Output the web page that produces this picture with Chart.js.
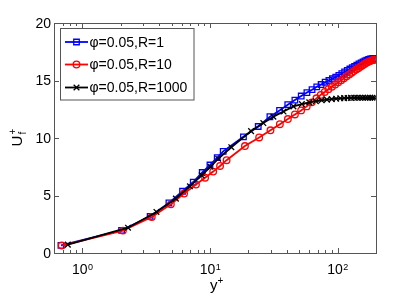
<!DOCTYPE html>
<html>
<head>
<meta charset="utf-8">
<script src="https://cdn.jsdelivr.net/npm/chart.js@4/dist/chart.umd.min.js"></script>
<style>
  html, body { margin: 0; padding: 0; background: #fff; }
  #wrap { width: 415px; height: 297px; }
</style>
</head>
<body>
<div id="wrap"><canvas id="chart" width="415" height="297"></canvas></div>
<script>
// phi=0.05, R=1
const yPlusR1 = [0.68, 2.03, 3.4, 4.77, 6.1, 7.4, 8.7, 10.0, 11.4, 12.7,
  18.3, 23.9, 29.5, 35.1, 40.7, 46.3, 51.9, 57.5, 63.1, 68.7, 74.3, 79.9, 85.5, 91.1, 96.7,
  102.3, 107.9, 113.5, 119.1, 124.7, 130.3, 135.9, 141.5, 147.1, 152.7, 158.3, 163.9, 169.5,
  175.1, 180.7, 186.3, 191.9];
const uR1 = [0.67, 1.97, 3.19, 4.35, 5.37, 6.17, 7.0, 7.65, 8.3, 8.84,
  10.1, 11.0, 11.85, 12.4, 12.9, 13.3, 13.65, 13.95, 14.2, 14.45, 14.65, 14.85, 15.0, 15.15, 15.3,
  15.45, 15.6, 15.75, 15.88, 16.0, 16.12, 16.23, 16.34, 16.44, 16.53, 16.62, 16.7, 16.77,
  16.83, 16.87, 16.9, 16.92];

// phi=0.05, R=10
const yPlusR10 = [0.69, 2.08, 3.5, 4.94, 6.27, 7.77, 9.16, 10.6, 12.0, 13.5,
  18.8, 24.3, 29.8, 35.3, 40.8, 46.3, 51.8, 57.3, 62.8, 68.3, 73.8, 79.3, 84.8, 90.3, 95.8,
  101.3, 106.8, 112.3, 117.8, 123.3, 128.8, 134.3, 139.8, 145.3, 150.8, 156.3, 161.8, 167.3,
  172.8, 178.3, 183.8, 189.3, 194.8];
const uR10 = [0.65, 1.95, 3.13, 4.23, 5.17, 5.95, 6.55, 7.08, 7.57, 8.07,
  9.3, 10.05, 10.67, 11.2, 11.65, 12.05, 12.4, 12.75, 13.1, 13.45, 13.75, 14.0, 14.25, 14.45, 14.65,
  14.85, 15.03, 15.2, 15.37, 15.53, 15.68, 15.82, 15.95, 16.07, 16.2, 16.31, 16.42, 16.52,
  16.6, 16.67, 16.73, 16.78, 16.8];

// phi=0.05, R=1000
const yPlusR1000 = [0.77, 2.28, 3.81, 5.41, 6.97, 8.61, 10.1, 11.6, 14.7, 21.0,
  26.2, 31.4, 37.7, 45.1, 52.5, 60, 67.5, 75, 82.5, 90, 97.5, 105, 112.5, 120, 127.5,
  135, 142.5, 150, 157.5, 165, 172.5, 180, 187.5, 195];
const uR1000 = [0.73, 2.2, 3.57, 4.73, 5.8, 6.76, 7.5, 8.2, 9.2, 10.6,
  11.3, 11.85, 12.3, 12.75, 12.95, 13.1, 13.2, 13.28, 13.34, 13.38, 13.42, 13.45, 13.47, 13.48, 13.49,
  13.5, 13.5, 13.5, 13.5, 13.5, 13.5, 13.5, 13.5, 13.5];

const seriesLabels = ['φ=0.05,R=1', 'φ=0.05,R=10', 'φ=0.05,R=1000'];
const xMajorExponents = [0, 1, 2];
const yTickValues = [0, 5, 10, 15, 20];

const FONT = '"Liberation Sans", Arial, Helvetica, sans-serif';
const AXIS_COLOR = '#555';

const toPoints = (xs, ys) => xs.map((x, i) => ({ x: x, y: ys[i] }));

const styles = [
  { color: '#0000ff', marker: 'rect', radius: 3.9 },
  { color: '#ff0000', marker: 'circle', radius: 3.3 },
  { color: '#000000', marker: 'crossRot', radius: 4 }
];

function drawMarker(ctx, type, x, y, r) {
  ctx.beginPath();
  if (type === 'rect') {
    const s = r * Math.SQRT1_2;
    ctx.rect(x - s, y - s, 2 * s, 2 * s);
  } else if (type === 'circle') {
    ctx.arc(x, y, r, 0, Math.PI * 2);
  } else {
    const s = r * Math.SQRT1_2;
    ctx.moveTo(x - s, y - s); ctx.lineTo(x + s, y + s);
    ctx.moveTo(x - s, y + s); ctx.lineTo(x + s, y - s);
  }
  ctx.stroke();
}

// box, inward ticks, tick labels and axis titles drawn like a MATLAB figure
const matlabAxes = {
  id: 'matlabAxes',
  afterDraw(chart) {
    const ctx = chart.ctx;
    const a = chart.chartArea;
    const xs = chart.scales.x;
    const ys = chart.scales.y;
    ctx.save();
    ctx.strokeStyle = AXIS_COLOR;
    ctx.lineWidth = 1;
    ctx.strokeRect(Math.round(a.left) + 0.5, Math.round(a.top) + 0.5,
      Math.round(a.right - a.left), Math.round(a.bottom - a.top));

    // y ticks
    ctx.beginPath();
    yTickValues.forEach(v => {
      const py = Math.round(ys.getPixelForValue(v)) + 0.5;
      ctx.moveTo(a.left, py); ctx.lineTo(a.left + 5, py);
      ctx.moveTo(a.right, py); ctx.lineTo(a.right - 5, py);
    });
    // x ticks, major and minor
    const minV = xs.min, maxV = xs.max;
    for (let e = -1; e <= 2; e++) {
      for (let m = 1; m <= 9; m++) {
        const v = m * Math.pow(10, e);
        if (v < minV || v > maxV) continue;
        const len = m === 1 ? 5 : 3;
        const px = Math.round(xs.getPixelForValue(v)) + 0.5;
        ctx.moveTo(px, a.bottom); ctx.lineTo(px, a.bottom - len);
        ctx.moveTo(px, a.top); ctx.lineTo(px, a.top + len);
      }
    }
    ctx.stroke();

    ctx.fillStyle = '#000';
    ctx.font = '14px ' + FONT;
    ctx.textAlign = 'right';
    ctx.textBaseline = 'middle';
    yTickValues.forEach(v => {
      ctx.fillText(String(v), a.left - 3, ys.getPixelForValue(v) + 1);
    });

    // x tick labels 10^n
    ctx.textBaseline = 'alphabetic';
    ctx.textAlign = 'left';
    xMajorExponents.forEach(ex => {
      const px = xs.getPixelForValue(Math.pow(10, ex));
      ctx.font = '14px ' + FONT;
      const wBase = ctx.measureText('10').width;
      ctx.font = '9px ' + FONT;
      const wExp = ctx.measureText(String(ex)).width;
      const x0 = px - (wBase + wExp) / 2;
      ctx.font = '14px ' + FONT;
      ctx.fillText('10', x0, a.bottom + 21);
      ctx.font = '9px ' + FONT;
      ctx.fillText(String(ex), x0 + wBase + 0.5, a.bottom + 17);
    });

    // x title y+
    const cx = (a.left + a.right) / 2;
    ctx.font = '15px ' + FONT;
    const wy = ctx.measureText('y').width;
    ctx.fillText('y', cx - 5, a.bottom + 37);
    ctx.font = '10px ' + FONT;
    ctx.fillText('+', cx - 5 + wy, a.bottom + 31);

    // y title U_f^+
    const cy = (a.top + a.bottom) / 2;
    ctx.translate(22, cy);
    ctx.rotate(-Math.PI / 2);
    ctx.font = '15px ' + FONT;
    const wU = ctx.measureText('U').width;
    ctx.fillText('U', -wU / 2 - 3, 0);
    ctx.font = '10px ' + FONT;
    ctx.fillText('+', wU / 2 - 2, -6);
    ctx.fillText('f', wU / 2 - 2, 4);
    ctx.restore();

    // legend box
    ctx.save();
    const lx = 60.5, ly = 28.5, lw = 133.5, lh = 71.5;
    ctx.fillStyle = '#fff';
    ctx.fillRect(lx, ly, lw, lh);
    ctx.strokeStyle = AXIS_COLOR;
    ctx.lineWidth = 1;
    ctx.strokeRect(lx, ly, lw, lh);
    const rows = [42, 64.5, 87.5];
    seriesLabels.forEach((label, i) => {
      const st = styles[i];
      ctx.strokeStyle = st.color;
      ctx.lineWidth = 1.8;
      ctx.beginPath();
      ctx.moveTo(65, rows[i]); ctx.lineTo(88, rows[i]);
      ctx.stroke();
      ctx.lineWidth = 1.3;
      drawMarker(ctx, st.marker, 76.5, rows[i], st.radius);
      ctx.fillStyle = '#000';
      ctx.font = '14px ' + FONT;
      ctx.textAlign = 'left';
      ctx.textBaseline = 'middle';
      ctx.fillText(label, 89.5, rows[i] + 1);
    });
    ctx.restore();
  }
};

const allSeries = [
  toPoints(yPlusR1, uR1),
  toPoints(yPlusR10, uR10),
  toPoints(yPlusR1000, uR1000)
];

new Chart(document.getElementById('chart'), {
  type: 'scatter',
  data: {
    datasets: allSeries.map((pts, i) => ({
      label: seriesLabels[i],
      data: pts,
      showLine: true,
      borderColor: styles[i].color,
      borderWidth: 1.8,
      pointStyle: styles[i].marker,
      pointRadius: styles[i].radius,
      pointBorderWidth: 1.3,
      pointBorderColor: styles[i].color,
      pointBackgroundColor: 'rgba(0,0,0,0)',
      order: 2 - i
    }))
  },
  options: {
    responsive: false,
    animation: false,
    devicePixelRatio: 1,
    layout: { padding: { left: 54, right: 39, top: 23, bottom: 44 } },
    scales: {
      x: { type: 'logarithmic', min: 0.6, max: 200, display: false },
      y: { type: 'linear', min: 0, max: 20, display: false }
    },
    plugins: {
      legend: { display: false },
      tooltip: { enabled: false }
    }
  },
  plugins: [matlabAxes]
});
</script>
</body>
</html>
